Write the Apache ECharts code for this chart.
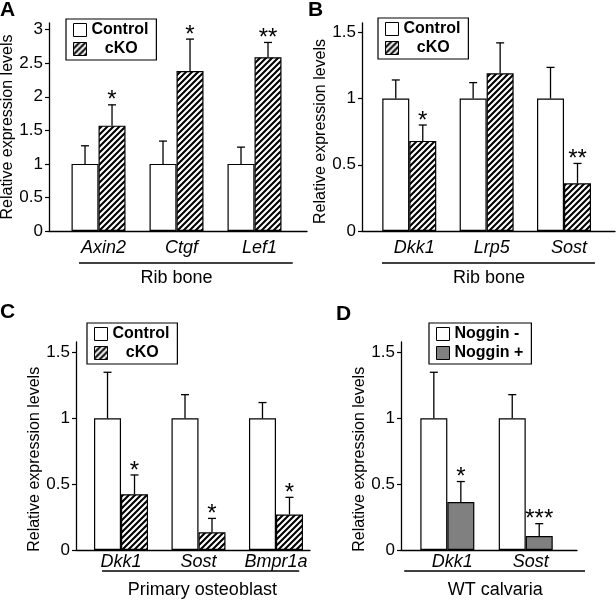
<!DOCTYPE html>
<html><head><meta charset="utf-8">
<script src="https://cdn.jsdelivr.net/npm/echarts@6/dist/echarts.min.js"></script>
<style>html,body{margin:0;padding:0;background:#fff}#c{width:616px;height:607px}</style>
</head><body><div id="c"></div>
<script>
// ---------- DATA ----------
const catsA = ['Axin2', 'Ctgf', 'Lef1'];
const ctrlA = [1, 1, 1];
const ctrlErrA = [0.27, 0.34, 0.25];
const ckoA = [1.57, 2.385, 2.59];
const ckoErrA = [0.31, 0.475, 0.22];
const sigA = ['*', '*', '**'];

const catsB = ['Dkk1', 'Lrp5', 'Sost'];
const ctrlB = [1, 1, 1];
const ctrlErrB = [0.14, 0.12, 0.235];
const ckoB = [0.68, 1.19, 0.36];
const ckoErrB = [0.12, 0.23, 0.15];
const sigB = ['*', '', '**'];

const catsC = ['Dkk1', 'Sost', 'Bmpr1a'];
const ctrlC = [1, 1, 1];
const ctrlErrC = [0.35, 0.18, 0.12];
const ckoC = [0.424, 0.134, 0.27];
const ckoErrC = [0.146, 0.106, 0.13];
const sigC = ['*', '*', '*'];

const catsD = ['Dkk1', 'Sost'];
const nogMinus = [1, 1];
const nogMinusErr = [0.35, 0.18];
const nogPlus = [0.364, 0.106];
const nogPlusErr = [0.156, 0.094];
const sigD = ['*', '***'];

const yTicksA = [0, 0.5, 1, 1.5, 2, 2.5, 3];
const yTicksBCD = [0, 0.5, 1, 1.5];
const namesCKO = ['Control', 'cKO'];
const namesNog = ['Noggin -', 'Noggin +'];
const yName = 'Relative expression levels';
const groupA = 'Rib bone', groupB = 'Rib bone', groupC = 'Primary osteoblast', groupD = 'WT calvaria';
const letters = ['A', 'B', 'C', 'D'];

// ---------- STYLE / LAYOUT ----------
const FONT = '"Liberation Sans", Arial, sans-serif';
function hatchCanvas() {
  const c = document.createElement('canvas');
  c.width = 6; c.height = 6;
  const g = c.getContext('2d');
  g.fillStyle = '#fff'; g.fillRect(0, 0, 6, 6);
  g.strokeStyle = '#000'; g.lineWidth = 2.1;
  g.beginPath();
  g.moveTo(-1, 7); g.lineTo(7, -1);
  g.moveTo(-1, 1); g.lineTo(1, -1);
  g.moveTo(5, 7); g.lineTo(7, 5);
  g.stroke();
  return c;
}
const HATCH = { image: hatchCanvas(), repeat: 'repeat' };

const panels = [
  { cats: catsA, s1: ctrlA, e1: ctrlErrA, s2: ckoA, e2: ckoErrA, sig: sigA, ticks: yTicksA, group: groupA, names: namesCKO, fill2: HATCH,
    grid: { left: 49, top: 23, width: 258, height: 208 }, xr: [-0.635, 2.673], ymax: 3.1,
    nameGap: 26, nameShift: 0, labMargin: 8, labPad: 10, br: [-0.25, 2.49], brY: 32, gx: 1.0, gY: 47,
    legend: { left: 66, top: 19 }, letter: { left: 0, top: 0 } },
  { cats: catsB, s1: ctrlB, e1: ctrlErrB, s2: ckoB, e2: ckoErrB, sig: sigB, ticks: yTicksBCD, group: groupB, names: namesCKO, fill2: HATCH,
    grid: { left: 362, top: 23, width: 253, height: 208 }, xr: [-0.611, 2.659], ymax: 1.57,
    nameGap: 29, nameShift: 2, labMargin: 8, labPad: 10, br: [-0.353, 2.40], brY: 32, gx: 1.03, gY: 47,
    legend: { left: 378, top: 18 }, letter: { left: 308, top: 0 } },
  { cats: catsC, s1: ctrlC, e1: ctrlErrC, s2: ckoC, e2: ckoErrC, sig: sigC, ticks: yTicksBCD, group: groupC, names: namesCKO, fill2: HATCH,
    grid: { left: 76, top: 342, width: 234, height: 208 }, xr: [-0.581, 2.439], ymax: 1.58,
    nameGap: 33, nameShift: 6, labMargin: 3, labPad: 0, br: [-0.245, 2.3], brY: 21, gx: 1.05, gY: 40,
    legend: { left: 87, top: 323 }, letter: { left: 0, top: 302 } },
  { cats: catsD, s1: nogMinus, e1: nogMinusErr, s2: nogPlus, e2: nogPlusErr, sig: sigD, ticks: yTicksBCD, group: groupD, names: namesNog, fill2: '#808080',
    grid: { left: 401, top: 342, width: 176, height: 208 }, xr: [-0.591, 1.654], ymax: 1.58,
    nameGap: 32, nameShift: 6, labMargin: 3, labPad: 10, br: [-0.55, 1.756], brY: 21, gx: 0.61, gY: 40,
    legend: { left: 429, top: 323 }, letter: { left: 336, top: 304 } }
];

const HALF = 13.5;
function errSeries(i, means, errs, dx, sig) {
  return {
    type: 'custom', xAxisIndex: i, yAxisIndex: i, silent: true, z: 5, clip: false,
    data: means.map((m, j) => [j, m, m + errs[j]]),
    renderItem: (params, api) => {
      const b = api.coord([api.value(0), api.value(1)]);
      const t = api.coord([api.value(0), api.value(2)]);
      const x = b[0] + dx;
      const ch = [
        { type: 'line', shape: { x1: x, y1: b[1], x2: x, y2: t[1] }, style: { stroke: '#000', lineWidth: 1.3 } },
        { type: 'line', shape: { x1: x - 4, y1: t[1], x2: x + 4, y2: t[1] }, style: { stroke: '#000', lineWidth: 1.3 } }
      ];
      const s = sig ? sig[params.dataIndex] : '';
      if (s) ch.push({ type: 'text', x: x, y: t[1] - 4, style: { text: s, align: 'center', verticalAlign: 'middle', fontSize: 24, fontFamily: FONT, fill: '#000' } });
      return { type: 'group', children: ch };
    }
  };
}
function bracketSeries(i, p) {
  return {
    type: 'custom', xAxisIndex: i, yAxisIndex: i, silent: true, clip: false,
    data: [[p.br[0], p.br[1], p.gx]],
    renderItem: (params, api) => {
      const a = api.coord([api.value(0), 0]);
      const b = api.coord([api.value(1), 0]);
      const g = api.coord([api.value(2), 0]);
      return { type: 'group', children: [
        { type: 'line', shape: { x1: a[0], y1: a[1] + p.brY, x2: b[0], y2: a[1] + p.brY }, style: { stroke: '#000', lineWidth: 1.3 } },
        { type: 'text', x: g[0], y: a[1] + p.gY, style: { text: p.group, align: 'center', verticalAlign: 'middle', fontSize: 18, fontFamily: FONT, fill: '#000' } }
      ] };
    }
  };
}

const option = {
  animation: false,
  backgroundColor: '#fff',
  title: panels.map((p, i) => ({ text: letters[i], left: p.letter.left, top: p.letter.top, padding: 0,
    textStyle: { fontSize: 21, fontWeight: 'bold', color: '#000', fontFamily: FONT } })),
  legend: panels.map(p => ({
    left: p.legend.left, top: p.legend.top, orient: 'vertical', data: p.names, icon: 'rect',
    itemWidth: 13, itemHeight: 13, itemGap: 3, padding: [3, 8, 3, 7], selectedMode: false,
    borderColor: '#000', borderWidth: 1.2,
    itemStyle: { borderColor: '#000', borderWidth: 1 },
    textStyle: { fontSize: 16, fontWeight: 'bold', color: '#000', fontFamily: FONT },
    formatter: n => (n === 'cKO' ? '   cKO' : n)
  })),
  grid: panels.map(p => Object.assign({ outerBoundsMode: 'none', containLabel: false }, p.grid)),
  xAxis: panels.map((p, i) => ({
    type: 'value', gridIndex: i, min: p.xr[0], max: p.xr[1], scale: false,
    axisLine: { show: true, onZero: false, lineStyle: { color: '#000', width: 1.3 } },
    axisTick: { show: false }, splitLine: { show: false },
    axisLabel: { customValues: p.cats.map((c, j) => j), formatter: v => p.cats[Math.round(v)] || '',
      fontSize: 18, fontStyle: 'italic', color: '#000', fontFamily: FONT, margin: p.labMargin, padding: [0, 0, 0, p.labPad] }
  })),
  yAxis: panels.map((p, i) => ({
    type: 'value', gridIndex: i, min: 0, max: p.ymax,
    name: yName + '\u00a0'.repeat(p.nameShift), nameLocation: 'middle', nameGap: p.nameGap,
    nameTextStyle: { fontSize: 16, color: '#000', fontFamily: FONT },
    axisLine: { show: true, onZero: false, lineStyle: { color: '#000', width: 1.3 } },
    axisTick: { show: true, inside: false, length: 4, customValues: p.ticks, lineStyle: { color: '#000', width: 1.2 } },
    axisLabel: { customValues: p.ticks, fontSize: 17, color: '#000', fontFamily: FONT, margin: 6 },
    splitLine: { show: false }
  })),
  series: []
};

panels.forEach((p, i) => {
  option.series.push({
    type: 'bar', name: p.names[0], xAxisIndex: i, yAxisIndex: i, barWidth: 27, barGap: '0%',
    data: p.s1.map((v, j) => [j, v]),
    itemStyle: { color: '#fff', borderColor: '#000', borderWidth: 1.2 }
  });
  option.series.push({
    type: 'bar', name: p.names[1], xAxisIndex: i, yAxisIndex: i, barWidth: 27, barGap: '0%',
    data: p.s2.map((v, j) => [j, v]),
    itemStyle: { color: p.fill2, borderColor: '#000', borderWidth: 1.2 }
  });
  option.series.push(errSeries(i, p.s1, p.e1, -HALF, null));
  option.series.push(errSeries(i, p.s2, p.e2, HALF, p.sig));
  option.series.push(bracketSeries(i, p));
});

const chart = echarts.init(document.getElementById('c'), null, { renderer: 'canvas' });
chart.setOption(option);
</script>
</body></html>
